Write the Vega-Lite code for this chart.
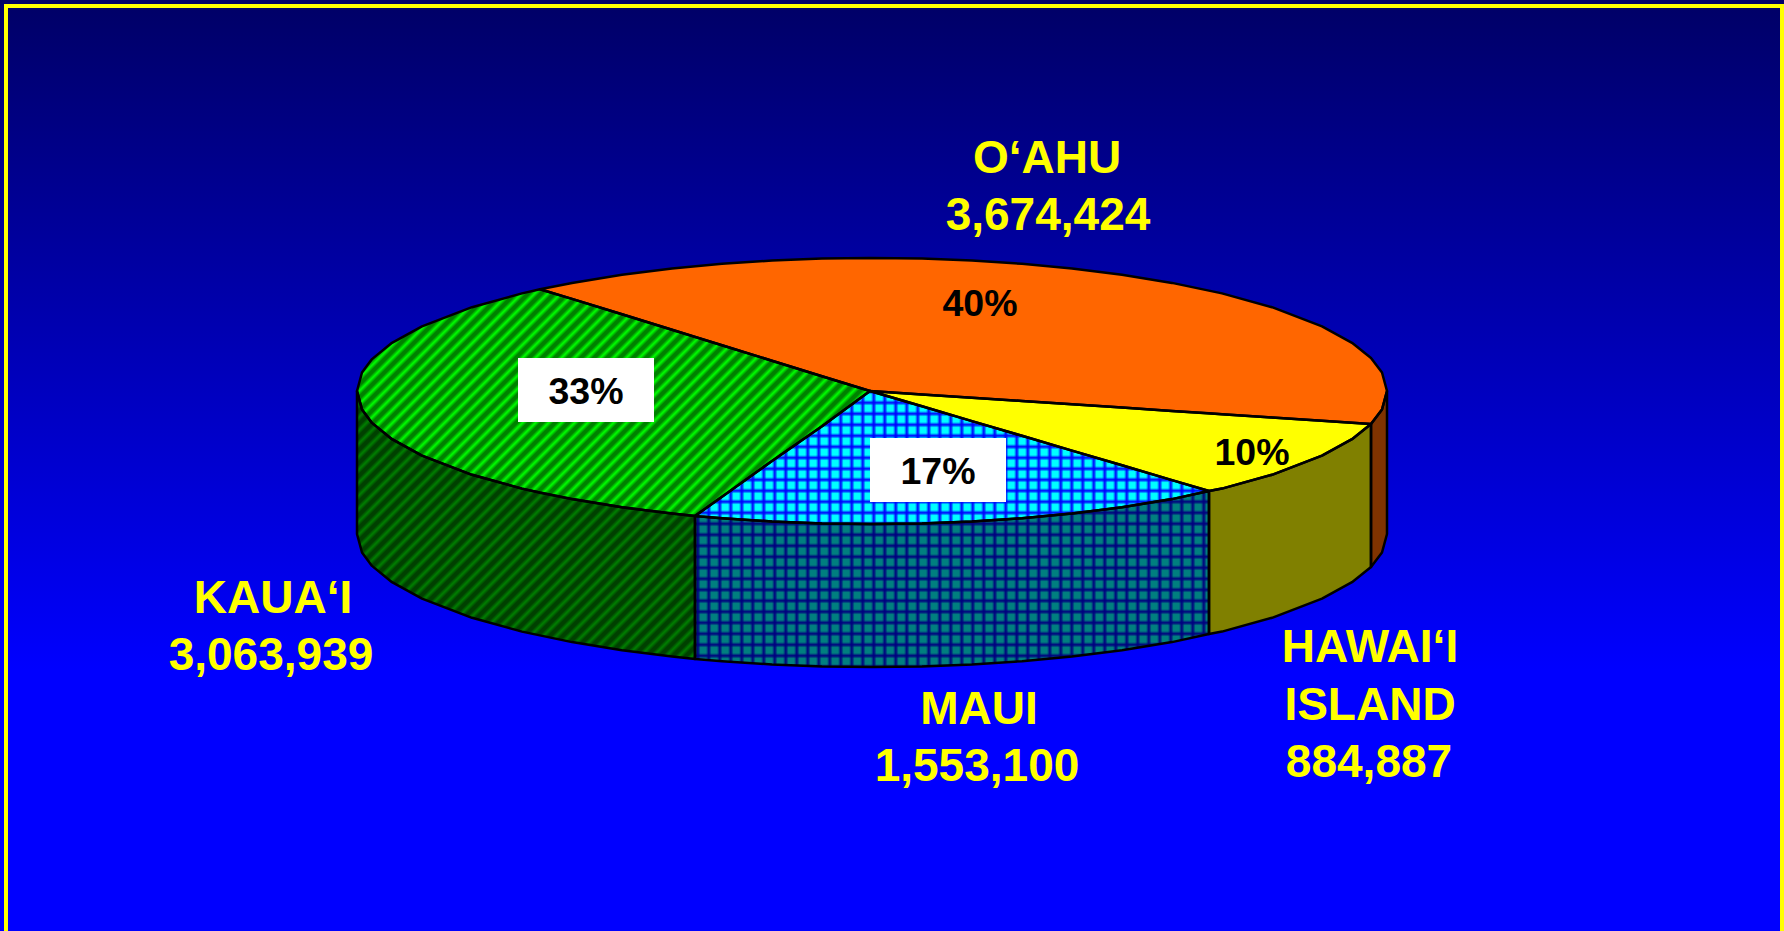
{"$schema":"https://vega.github.io/schema/vega-lite/v6.json","width":1784,"height":931,"padding":0,"autosize":"none","background":"#000066","view":{"stroke":null},
"data":{"values":[
{"part":"orange","x":540,"y":289.3,"y2":289.3},{"part":"orange","x":572,"y":282.9,"y2":298.9},{"part":"orange","x":622,"y":274.7,"y2":314.3},{"part":"orange","x":672,"y":268.4,"y2":329.8},{"part":"orange","x":722,"y":263.8,"y2":345.3},{"part":"orange","x":772,"y":260.5,"y2":360.7},{"part":"orange","x":822,"y":258.6,"y2":376.2},{"part":"orange","x":870,"y":258,"y2":391},{"part":"orange","x":922,"y":258.6,"y2":394.4},{"part":"orange","x":972,"y":260.5,"y2":397.7},{"part":"orange","x":1022,"y":263.8,"y2":401},{"part":"orange","x":1072,"y":268.4,"y2":404.3},{"part":"orange","x":1122,"y":274.7,"y2":407.6},{"part":"orange","x":1172,"y":282.9,"y2":410.9},{"part":"orange","x":1222,"y":293.4,"y2":414.2},{"part":"orange","x":1272,"y":307.2,"y2":417.5},{"part":"orange","x":1322,"y":326.3,"y2":420.8},{"part":"orange","x":1352,"y":342.8,"y2":422.8},{"part":"orange","x":1371,"y":358,"y2":424},{"part":"orange","x":1382,"y":372.5,"y2":409.5},{"part":"orange","x":1387,"y":391,"y2":391},
{"part":"yellow","x":870,"y":391,"y2":391},{"part":"yellow","x":922,"y":394.4,"y2":406.3},{"part":"yellow","x":972,"y":397.7,"y2":421.1},{"part":"yellow","x":1022,"y":401,"y2":435.8},{"part":"yellow","x":1072,"y":404.3,"y2":450.6},{"part":"yellow","x":1122,"y":407.6,"y2":465.3},{"part":"yellow","x":1172,"y":410.9,"y2":480.1},{"part":"yellow","x":1209,"y":413.3,"y2":491},{"part":"yellow","x":1222,"y":414.2,"y2":488.6},{"part":"yellow","x":1272,"y":417.5,"y2":474.8},{"part":"yellow","x":1322,"y":420.8,"y2":455.7},{"part":"yellow","x":1352,"y":422.8,"y2":439.2},{"part":"yellow","x":1371,"y":424,"y2":424},
{"part":"brown","x":1371,"y":424,"y2":567},{"part":"brown","x":1382,"y":409.5,"y2":552.5},{"part":"brown","x":1387,"y":391,"y2":534},
{"part":"olive","x":1209,"y":491,"y2":634},{"part":"olive","x":1222,"y":488.6,"y2":631.6},{"part":"olive","x":1272,"y":474.8,"y2":617.8},{"part":"olive","x":1322,"y":455.7,"y2":598.7},{"part":"olive","x":1352,"y":439.2,"y2":582.2},{"part":"olive","x":1371,"y":424,"y2":567},
{"part":"mauiAll","x":695,"y":516,"y2":659},{"part":"mauiAll","x":722,"y":496.7,"y2":661.2},{"part":"mauiAll","x":772,"y":461,"y2":664.5},{"part":"mauiAll","x":822,"y":426.3,"y2":666.4},{"part":"mauiAll","x":870,"y":391,"y2":667},{"part":"mauiAll","x":922,"y":406.3,"y2":666.4},{"part":"mauiAll","x":972,"y":421.1,"y2":664.5},{"part":"mauiAll","x":1022,"y":435.8,"y2":661.2},{"part":"mauiAll","x":1072,"y":450.6,"y2":656.6},{"part":"mauiAll","x":1122,"y":465.3,"y2":650.3},{"part":"mauiAll","x":1172,"y":480.1,"y2":642.1},{"part":"mauiAll","x":1209,"y":491,"y2":634},
{"part":"mauiSide","x":695,"y":516,"y2":659},{"part":"mauiSide","x":722,"y":518.2,"y2":661.2},{"part":"mauiSide","x":772,"y":521.5,"y2":664.5},{"part":"mauiSide","x":822,"y":523.4,"y2":666.4},{"part":"mauiSide","x":872,"y":524,"y2":667},{"part":"mauiSide","x":922,"y":523.4,"y2":666.4},{"part":"mauiSide","x":972,"y":521.5,"y2":664.5},{"part":"mauiSide","x":1022,"y":518.2,"y2":661.2},{"part":"mauiSide","x":1072,"y":513.6,"y2":656.6},{"part":"mauiSide","x":1122,"y":507.3,"y2":650.3},{"part":"mauiSide","x":1172,"y":499.1,"y2":642.1},{"part":"mauiSide","x":1209,"y":491,"y2":634},
{"part":"mauiTop","x":695,"y":516,"y2":516},{"part":"mauiTop","x":722,"y":496.7,"y2":518.2},{"part":"mauiTop","x":772,"y":461,"y2":521.5},{"part":"mauiTop","x":822,"y":426.3,"y2":523.4},{"part":"mauiTop","x":870,"y":391,"y2":524},{"part":"mauiTop","x":922,"y":406.3,"y2":523.4},{"part":"mauiTop","x":972,"y":421.1,"y2":521.5},{"part":"mauiTop","x":1022,"y":435.8,"y2":518.2},{"part":"mauiTop","x":1072,"y":450.6,"y2":513.6},{"part":"mauiTop","x":1122,"y":465.3,"y2":507.3},{"part":"mauiTop","x":1172,"y":480.1,"y2":499.1},{"part":"mauiTop","x":1209,"y":491,"y2":491},
{"part":"kauaiTop","x":357,"y":391,"y2":391},{"part":"kauaiTop","x":362,"y":372.5,"y2":409.5},{"part":"kauaiTop","x":372,"y":359.1,"y2":422.9},{"part":"kauaiTop","x":392,"y":342.8,"y2":439.2},{"part":"kauaiTop","x":422,"y":326.3,"y2":455.7},{"part":"kauaiTop","x":472,"y":307.2,"y2":474.8},{"part":"kauaiTop","x":522,"y":293.4,"y2":488.6},{"part":"kauaiTop","x":540,"y":289.3,"y2":492.7},{"part":"kauaiTop","x":572,"y":298.9,"y2":499.1},{"part":"kauaiTop","x":622,"y":314.3,"y2":507.3},{"part":"kauaiTop","x":672,"y":329.8,"y2":513.6},{"part":"kauaiTop","x":695,"y":336.9,"y2":516},{"part":"kauaiTop","x":722,"y":345.3,"y2":496.7},{"part":"kauaiTop","x":772,"y":360.7,"y2":461},{"part":"kauaiTop","x":822,"y":376.2,"y2":426.3},{"part":"kauaiTop","x":870,"y":391,"y2":391},
{"part":"kauaiSide","x":357,"y":391,"y2":534},{"part":"kauaiSide","x":362,"y":409.5,"y2":552.5},{"part":"kauaiSide","x":372,"y":422.9,"y2":565.9},{"part":"kauaiSide","x":392,"y":439.2,"y2":582.2},{"part":"kauaiSide","x":422,"y":455.7,"y2":598.7},{"part":"kauaiSide","x":472,"y":474.8,"y2":617.8},{"part":"kauaiSide","x":522,"y":488.6,"y2":631.6},{"part":"kauaiSide","x":572,"y":499.1,"y2":642.1},{"part":"kauaiSide","x":622,"y":507.3,"y2":650.3},{"part":"kauaiSide","x":672,"y":513.6,"y2":656.6},{"part":"kauaiSide","x":695,"y":516,"y2":659},
{"part":"kauaiAll","x":357,"y":391,"y2":534},{"part":"kauaiAll","x":362,"y":372.5,"y2":552.5},{"part":"kauaiAll","x":372,"y":359.1,"y2":565.9},{"part":"kauaiAll","x":392,"y":342.8,"y2":582.2},{"part":"kauaiAll","x":422,"y":326.3,"y2":598.7},{"part":"kauaiAll","x":472,"y":307.2,"y2":617.8},{"part":"kauaiAll","x":522,"y":293.4,"y2":631.6},{"part":"kauaiAll","x":540,"y":289.3,"y2":635.7},{"part":"kauaiAll","x":572,"y":298.9,"y2":642.1},{"part":"kauaiAll","x":622,"y":314.3,"y2":650.3},{"part":"kauaiAll","x":672,"y":329.8,"y2":656.6},{"part":"kauaiAll","x":695,"y":336.9,"y2":659},{"part":"kauaiAll","x":695.5,"y":337.1,"y2":516},{"part":"kauaiAll","x":722,"y":345.3,"y2":496.7},{"part":"kauaiAll","x":772,"y":360.7,"y2":461},{"part":"kauaiAll","x":822,"y":376.2,"y2":426.3},{"part":"kauaiAll","x":870,"y":391,"y2":391}
]},
"encoding":{"x":{"field":"x","type":"quantitative","axis":null,"scale":{"domain":[0,1784],"nice":false,"zero":false}},"y":{"field":"y","type":"quantitative","axis":null,"scale":{"domain":[931,0],"nice":false,"zero":false}},"y2":{"field":"y2"}},
"layer":[
{"data":{"values":[{"x":0,"x2":1784,"y":0,"y2":931}]},"mark":{"type":"rect","fill":{"gradient":"linear","x1":0,"y1":0,"x2":0,"y2":1,"stops":[{"offset":0,"color":"#000066"},{"offset":0.72,"color":"#0000ff"},{"offset":1,"color":"#0000ff"}]}},"encoding":{"x2":{"field":"x2"}}},
{"data":{"values":[{"side":"left","x":4,"x2":8,"y":4,"y2":931},{"side":"top","x":4,"x2":1784,"y":4,"y2":8},{"side":"right","x":1780,"x2":1784,"y":4,"y2":931}]},"mark":{"type":"rect","fill":"#ffff00"},"encoding":{"x2":{"field":"x2"}}},
{"transform":[{"filter":"datum.part=='kauaiAll'"}],"mark":{"type":"area","fill":"#00ff00"}},
{"transform":[{"filter":"datum.part=='kauaiAll'"}],"mark":{"type":"area","fill":{"gradient":"linear","x1":0,"y1":0,"x2":1.668,"y2":1.202,"stops":[{"offset":0,"color":"#0800"},{"offset":0.0035,"color":"#008000"},{"offset":0.0065,"color":"#008000"},{"offset":0.01,"color":"#0800"},{"offset":0.0135,"color":"#008000"},{"offset":0.0165,"color":"#008000"},{"offset":0.02,"color":"#0800"},{"offset":0.0235,"color":"#008000"},{"offset":0.0265,"color":"#008000"},{"offset":0.03,"color":"#0800"},{"offset":0.0335,"color":"#008000"},{"offset":0.0365,"color":"#008000"},{"offset":0.04,"color":"#0800"},{"offset":0.0435,"color":"#008000"},{"offset":0.0465,"color":"#008000"},{"offset":0.05,"color":"#0800"},{"offset":0.0535,"color":"#008000"},{"offset":0.0565,"color":"#008000"},{"offset":0.06,"color":"#0800"},{"offset":0.0635,"color":"#008000"},{"offset":0.0665,"color":"#008000"},{"offset":0.07,"color":"#0800"},{"offset":0.0735,"color":"#008000"},{"offset":0.0765,"color":"#008000"},{"offset":0.08,"color":"#0800"},{"offset":0.0835,"color":"#008000"},{"offset":0.0865,"color":"#008000"},{"offset":0.09,"color":"#0800"},{"offset":0.0935,"color":"#008000"},{"offset":0.0965,"color":"#008000"},{"offset":0.1,"color":"#0800"},{"offset":0.1035,"color":"#008000"},{"offset":0.1065,"color":"#008000"},{"offset":0.11,"color":"#0800"},{"offset":0.1135,"color":"#008000"},{"offset":0.1165,"color":"#008000"},{"offset":0.12,"color":"#0800"},{"offset":0.1235,"color":"#008000"},{"offset":0.1265,"color":"#008000"},{"offset":0.13,"color":"#0800"},{"offset":0.1335,"color":"#008000"},{"offset":0.1365,"color":"#008000"},{"offset":0.14,"color":"#0800"},{"offset":0.1435,"color":"#008000"},{"offset":0.1465,"color":"#008000"},{"offset":0.15,"color":"#0800"},{"offset":0.1535,"color":"#008000"},{"offset":0.1565,"color":"#008000"},{"offset":0.16,"color":"#0800"},{"offset":0.1635,"color":"#008000"},{"offset":0.1665,"color":"#008000"},{"offset":0.17,"color":"#0800"},{"offset":0.1735,"color":"#008000"},{"offset":0.1765,"color":"#008000"},{"offset":0.18,"color":"#0800"},{"offset":0.1835,"color":"#008000"},{"offset":0.1865,"color":"#008000"},{"offset":0.19,"color":"#0800"},{"offset":0.1935,"color":"#008000"},{"offset":0.1965,"color":"#008000"},{"offset":0.2,"color":"#0800"},{"offset":0.2035,"color":"#008000"},{"offset":0.2065,"color":"#008000"},{"offset":0.21,"color":"#0800"},{"offset":0.2135,"color":"#008000"},{"offset":0.2165,"color":"#008000"},{"offset":0.22,"color":"#0800"},{"offset":0.2235,"color":"#008000"},{"offset":0.2265,"color":"#008000"},{"offset":0.23,"color":"#0800"},{"offset":0.2335,"color":"#008000"},{"offset":0.2365,"color":"#008000"},{"offset":0.24,"color":"#0800"},{"offset":0.2435,"color":"#008000"},{"offset":0.2465,"color":"#008000"},{"offset":0.25,"color":"#0800"},{"offset":0.2535,"color":"#008000"},{"offset":0.2565,"color":"#008000"},{"offset":0.26,"color":"#0800"},{"offset":0.2635,"color":"#008000"},{"offset":0.2665,"color":"#008000"},{"offset":0.27,"color":"#0800"},{"offset":0.2735,"color":"#008000"},{"offset":0.2765,"color":"#008000"},{"offset":0.28,"color":"#0800"},{"offset":0.2835,"color":"#008000"},{"offset":0.2865,"color":"#008000"},{"offset":0.29,"color":"#0800"},{"offset":0.2935,"color":"#008000"},{"offset":0.2965,"color":"#008000"},{"offset":0.3,"color":"#0800"},{"offset":0.3035,"color":"#008000"},{"offset":0.3065,"color":"#008000"},{"offset":0.31,"color":"#0800"},{"offset":0.3135,"color":"#008000"},{"offset":0.3165,"color":"#008000"},{"offset":0.32,"color":"#0800"},{"offset":0.3235,"color":"#008000"},{"offset":0.3265,"color":"#008000"},{"offset":0.33,"color":"#0800"},{"offset":0.3335,"color":"#008000"},{"offset":0.3365,"color":"#008000"},{"offset":0.34,"color":"#0800"},{"offset":0.3435,"color":"#008000"},{"offset":0.3465,"color":"#008000"},{"offset":0.35,"color":"#0800"},{"offset":0.3535,"color":"#008000"},{"offset":0.3565,"color":"#008000"},{"offset":0.36,"color":"#0800"},{"offset":0.3635,"color":"#008000"},{"offset":0.3665,"color":"#008000"},{"offset":0.37,"color":"#0800"},{"offset":0.3735,"color":"#008000"},{"offset":0.3765,"color":"#008000"},{"offset":0.38,"color":"#0800"},{"offset":0.3835,"color":"#008000"},{"offset":0.3865,"color":"#008000"},{"offset":0.39,"color":"#0800"},{"offset":0.3935,"color":"#008000"},{"offset":0.3965,"color":"#008000"},{"offset":0.4,"color":"#0800"},{"offset":0.4035,"color":"#008000"},{"offset":0.4065,"color":"#008000"},{"offset":0.41,"color":"#0800"},{"offset":0.4135,"color":"#008000"},{"offset":0.4165,"color":"#008000"},{"offset":0.42,"color":"#0800"},{"offset":0.4235,"color":"#008000"},{"offset":0.4265,"color":"#008000"},{"offset":0.43,"color":"#0800"},{"offset":0.4335,"color":"#008000"},{"offset":0.4365,"color":"#008000"},{"offset":0.44,"color":"#0800"},{"offset":0.4435,"color":"#008000"},{"offset":0.4465,"color":"#008000"},{"offset":0.45,"color":"#0800"},{"offset":0.4535,"color":"#008000"},{"offset":0.4565,"color":"#008000"},{"offset":0.46,"color":"#0800"},{"offset":0.4635,"color":"#008000"},{"offset":0.4665,"color":"#008000"},{"offset":0.47,"color":"#0800"},{"offset":0.4735,"color":"#008000"},{"offset":0.4765,"color":"#008000"},{"offset":0.48,"color":"#0800"},{"offset":0.4835,"color":"#008000"},{"offset":0.4865,"color":"#008000"},{"offset":0.49,"color":"#0800"},{"offset":0.4935,"color":"#008000"},{"offset":0.4965,"color":"#008000"},{"offset":0.5,"color":"#0800"},{"offset":0.5035,"color":"#008000"},{"offset":0.5065,"color":"#008000"},{"offset":0.51,"color":"#0800"},{"offset":0.5135,"color":"#008000"},{"offset":0.5165,"color":"#008000"},{"offset":0.52,"color":"#0800"},{"offset":0.5235,"color":"#008000"},{"offset":0.5265,"color":"#008000"},{"offset":0.53,"color":"#0800"},{"offset":0.5335,"color":"#008000"},{"offset":0.5365,"color":"#008000"},{"offset":0.54,"color":"#0800"},{"offset":0.5435,"color":"#008000"},{"offset":0.5465,"color":"#008000"},{"offset":0.55,"color":"#0800"},{"offset":0.5535,"color":"#008000"},{"offset":0.5565,"color":"#008000"},{"offset":0.56,"color":"#0800"},{"offset":0.5635,"color":"#008000"},{"offset":0.5665,"color":"#008000"},{"offset":0.57,"color":"#0800"},{"offset":0.5735,"color":"#008000"},{"offset":0.5765,"color":"#008000"},{"offset":0.58,"color":"#0800"},{"offset":0.5835,"color":"#008000"},{"offset":0.5865,"color":"#008000"},{"offset":0.59,"color":"#0800"},{"offset":0.5935,"color":"#008000"},{"offset":0.5965,"color":"#008000"},{"offset":0.6,"color":"#0800"},{"offset":0.6035,"color":"#008000"},{"offset":0.6065,"color":"#008000"},{"offset":0.61,"color":"#0800"},{"offset":0.6135,"color":"#008000"},{"offset":0.6165,"color":"#008000"},{"offset":0.62,"color":"#0800"},{"offset":0.6235,"color":"#008000"},{"offset":0.6265,"color":"#008000"},{"offset":0.63,"color":"#0800"},{"offset":0.6335,"color":"#008000"},{"offset":0.6365,"color":"#008000"},{"offset":0.64,"color":"#0800"},{"offset":0.6435,"color":"#008000"},{"offset":0.6465,"color":"#008000"},{"offset":0.65,"color":"#0800"},{"offset":0.6535,"color":"#008000"},{"offset":0.6565,"color":"#008000"},{"offset":0.66,"color":"#0800"},{"offset":0.6635,"color":"#008000"},{"offset":0.6665,"color":"#008000"},{"offset":0.67,"color":"#0800"},{"offset":0.6735,"color":"#008000"},{"offset":0.6765,"color":"#008000"},{"offset":0.68,"color":"#0800"}]}}},
{"transform":[{"filter":"datum.part=='kauaiSide'"}],"mark":{"type":"area","fill":"#000000","fillOpacity":0.5}},
{"transform":[{"filter":"datum.part=='mauiAll'"}],"mark":{"type":"area","fill":"#00ffff"}},
{"transform":[{"filter":"datum.part=='mauiAll'"}],"mark":{"type":"area","fill":{"gradient":"linear","x1":-0.00525,"y1":0,"x2":1.0648,"y2":0,"stops":[{"offset":0.005,"color":"#00f0"},{"offset":0.01,"color":"#00f"},{"offset":0.015,"color":"#00f0"},{"offset":0.025,"color":"#00f0"},{"offset":0.03,"color":"#00f"},{"offset":0.035,"color":"#00f0"},{"offset":0.045,"color":"#00f0"},{"offset":0.05,"color":"#00f"},{"offset":0.055,"color":"#00f0"},{"offset":0.065,"color":"#00f0"},{"offset":0.07,"color":"#00f"},{"offset":0.075,"color":"#00f0"},{"offset":0.085,"color":"#00f0"},{"offset":0.09,"color":"#00f"},{"offset":0.095,"color":"#00f0"},{"offset":0.105,"color":"#00f0"},{"offset":0.11,"color":"#00f"},{"offset":0.115,"color":"#00f0"},{"offset":0.125,"color":"#00f0"},{"offset":0.13,"color":"#00f"},{"offset":0.135,"color":"#00f0"},{"offset":0.145,"color":"#00f0"},{"offset":0.15,"color":"#00f"},{"offset":0.155,"color":"#00f0"},{"offset":0.165,"color":"#00f0"},{"offset":0.17,"color":"#00f"},{"offset":0.175,"color":"#00f0"},{"offset":0.185,"color":"#00f0"},{"offset":0.19,"color":"#00f"},{"offset":0.195,"color":"#00f0"},{"offset":0.205,"color":"#00f0"},{"offset":0.21,"color":"#00f"},{"offset":0.215,"color":"#00f0"},{"offset":0.225,"color":"#00f0"},{"offset":0.23,"color":"#00f"},{"offset":0.235,"color":"#00f0"},{"offset":0.245,"color":"#00f0"},{"offset":0.25,"color":"#00f"},{"offset":0.255,"color":"#00f0"},{"offset":0.265,"color":"#00f0"},{"offset":0.27,"color":"#00f"},{"offset":0.275,"color":"#00f0"},{"offset":0.285,"color":"#00f0"},{"offset":0.29,"color":"#00f"},{"offset":0.295,"color":"#00f0"},{"offset":0.305,"color":"#00f0"},{"offset":0.31,"color":"#00f"},{"offset":0.315,"color":"#00f0"},{"offset":0.325,"color":"#00f0"},{"offset":0.33,"color":"#00f"},{"offset":0.335,"color":"#00f0"},{"offset":0.345,"color":"#00f0"},{"offset":0.35,"color":"#00f"},{"offset":0.355,"color":"#00f0"},{"offset":0.365,"color":"#00f0"},{"offset":0.37,"color":"#00f"},{"offset":0.375,"color":"#00f0"},{"offset":0.385,"color":"#00f0"},{"offset":0.39,"color":"#00f"},{"offset":0.395,"color":"#00f0"},{"offset":0.405,"color":"#00f0"},{"offset":0.41,"color":"#00f"},{"offset":0.415,"color":"#00f0"},{"offset":0.425,"color":"#00f0"},{"offset":0.43,"color":"#00f"},{"offset":0.435,"color":"#00f0"},{"offset":0.445,"color":"#00f0"},{"offset":0.45,"color":"#00f"},{"offset":0.455,"color":"#00f0"},{"offset":0.465,"color":"#00f0"},{"offset":0.47,"color":"#00f"},{"offset":0.475,"color":"#00f0"},{"offset":0.485,"color":"#00f0"},{"offset":0.49,"color":"#00f"},{"offset":0.495,"color":"#00f0"},{"offset":0.505,"color":"#00f0"},{"offset":0.51,"color":"#00f"},{"offset":0.515,"color":"#00f0"},{"offset":0.525,"color":"#00f0"},{"offset":0.53,"color":"#00f"},{"offset":0.535,"color":"#00f0"},{"offset":0.545,"color":"#00f0"},{"offset":0.55,"color":"#00f"},{"offset":0.555,"color":"#00f0"},{"offset":0.565,"color":"#00f0"},{"offset":0.57,"color":"#00f"},{"offset":0.575,"color":"#00f0"},{"offset":0.585,"color":"#00f0"},{"offset":0.59,"color":"#00f"},{"offset":0.595,"color":"#00f0"},{"offset":0.605,"color":"#00f0"},{"offset":0.61,"color":"#00f"},{"offset":0.615,"color":"#00f0"},{"offset":0.625,"color":"#00f0"},{"offset":0.63,"color":"#00f"},{"offset":0.635,"color":"#00f0"},{"offset":0.645,"color":"#00f0"},{"offset":0.65,"color":"#00f"},{"offset":0.655,"color":"#00f0"},{"offset":0.665,"color":"#00f0"},{"offset":0.67,"color":"#00f"},{"offset":0.675,"color":"#00f0"},{"offset":0.685,"color":"#00f0"},{"offset":0.69,"color":"#00f"},{"offset":0.695,"color":"#00f0"},{"offset":0.705,"color":"#00f0"},{"offset":0.71,"color":"#00f"},{"offset":0.715,"color":"#00f0"},{"offset":0.725,"color":"#00f0"},{"offset":0.73,"color":"#00f"},{"offset":0.735,"color":"#00f0"},{"offset":0.745,"color":"#00f0"},{"offset":0.75,"color":"#00f"},{"offset":0.755,"color":"#00f0"},{"offset":0.765,"color":"#00f0"},{"offset":0.77,"color":"#00f"},{"offset":0.775,"color":"#00f0"},{"offset":0.785,"color":"#00f0"},{"offset":0.79,"color":"#00f"},{"offset":0.795,"color":"#00f0"},{"offset":0.805,"color":"#00f0"},{"offset":0.81,"color":"#00f"},{"offset":0.815,"color":"#00f0"},{"offset":0.825,"color":"#00f0"},{"offset":0.83,"color":"#00f"},{"offset":0.835,"color":"#00f0"},{"offset":0.845,"color":"#00f0"},{"offset":0.85,"color":"#00f"},{"offset":0.855,"color":"#00f0"},{"offset":0.865,"color":"#00f0"},{"offset":0.87,"color":"#00f"},{"offset":0.875,"color":"#00f0"},{"offset":0.885,"color":"#00f0"},{"offset":0.89,"color":"#00f"},{"offset":0.895,"color":"#00f0"},{"offset":0.905,"color":"#00f0"},{"offset":0.91,"color":"#00f"},{"offset":0.915,"color":"#00f0"},{"offset":0.925,"color":"#00f0"},{"offset":0.93,"color":"#00f"},{"offset":0.935,"color":"#00f0"},{"offset":0.945,"color":"#00f0"},{"offset":0.95,"color":"#00f"},{"offset":0.955,"color":"#00f0"}]}}},
{"transform":[{"filter":"datum.part=='mauiAll'"}],"mark":{"type":"area","fill":{"gradient":"linear","x1":0,"y1":-0.01703,"x2":0,"y2":1.9757,"stops":[{"offset":0.005,"color":"#00f0"},{"offset":0.01,"color":"#00f"},{"offset":0.015,"color":"#00f0"},{"offset":0.025,"color":"#00f0"},{"offset":0.03,"color":"#00f"},{"offset":0.035,"color":"#00f0"},{"offset":0.045,"color":"#00f0"},{"offset":0.05,"color":"#00f"},{"offset":0.055,"color":"#00f0"},{"offset":0.065,"color":"#00f0"},{"offset":0.07,"color":"#00f"},{"offset":0.075,"color":"#00f0"},{"offset":0.085,"color":"#00f0"},{"offset":0.09,"color":"#00f"},{"offset":0.095,"color":"#00f0"},{"offset":0.105,"color":"#00f0"},{"offset":0.11,"color":"#00f"},{"offset":0.115,"color":"#00f0"},{"offset":0.125,"color":"#00f0"},{"offset":0.13,"color":"#00f"},{"offset":0.135,"color":"#00f0"},{"offset":0.145,"color":"#00f0"},{"offset":0.15,"color":"#00f"},{"offset":0.155,"color":"#00f0"},{"offset":0.165,"color":"#00f0"},{"offset":0.17,"color":"#00f"},{"offset":0.175,"color":"#00f0"},{"offset":0.185,"color":"#00f0"},{"offset":0.19,"color":"#00f"},{"offset":0.195,"color":"#00f0"},{"offset":0.205,"color":"#00f0"},{"offset":0.21,"color":"#00f"},{"offset":0.215,"color":"#00f0"},{"offset":0.225,"color":"#00f0"},{"offset":0.23,"color":"#00f"},{"offset":0.235,"color":"#00f0"},{"offset":0.245,"color":"#00f0"},{"offset":0.25,"color":"#00f"},{"offset":0.255,"color":"#00f0"},{"offset":0.265,"color":"#00f0"},{"offset":0.27,"color":"#00f"},{"offset":0.275,"color":"#00f0"},{"offset":0.285,"color":"#00f0"},{"offset":0.29,"color":"#00f"},{"offset":0.295,"color":"#00f0"},{"offset":0.305,"color":"#00f0"},{"offset":0.31,"color":"#00f"},{"offset":0.315,"color":"#00f0"},{"offset":0.325,"color":"#00f0"},{"offset":0.33,"color":"#00f"},{"offset":0.335,"color":"#00f0"},{"offset":0.345,"color":"#00f0"},{"offset":0.35,"color":"#00f"},{"offset":0.355,"color":"#00f0"},{"offset":0.365,"color":"#00f0"},{"offset":0.37,"color":"#00f"},{"offset":0.375,"color":"#00f0"},{"offset":0.385,"color":"#00f0"},{"offset":0.39,"color":"#00f"},{"offset":0.395,"color":"#00f0"},{"offset":0.405,"color":"#00f0"},{"offset":0.41,"color":"#00f"},{"offset":0.415,"color":"#00f0"},{"offset":0.425,"color":"#00f0"},{"offset":0.43,"color":"#00f"},{"offset":0.435,"color":"#00f0"},{"offset":0.445,"color":"#00f0"},{"offset":0.45,"color":"#00f"},{"offset":0.455,"color":"#00f0"},{"offset":0.465,"color":"#00f0"},{"offset":0.47,"color":"#00f"},{"offset":0.475,"color":"#00f0"},{"offset":0.485,"color":"#00f0"},{"offset":0.49,"color":"#00f"},{"offset":0.495,"color":"#00f0"},{"offset":0.505,"color":"#00f0"},{"offset":0.51,"color":"#00f"},{"offset":0.515,"color":"#00f0"}]}}},
{"transform":[{"filter":"datum.part=='mauiSide'"}],"mark":{"type":"area","fill":"#000000","fillOpacity":0.5}},
{"transform":[{"filter":"datum.part=='orange'"}],"mark":{"type":"area","fill":"#ff6600"}},
{"transform":[{"filter":"datum.part=='yellow'"}],"mark":{"type":"area","fill":"#ffff00"}},
{"transform":[{"filter":"datum.part=='olive'"}],"mark":{"type":"area","fill":"#808000"}},
{"transform":[{"filter":"datum.part=='brown'"}],"mark":{"type":"area","fill":"#803300"}},
{"transform":[{"filter":{"field":"part","oneOf":["orange","yellow","olive","brown","mauiTop","mauiSide","kauaiTop","kauaiSide"]}}],"mark":{"type":"area","fill":"#000000","fillOpacity":0,"stroke":"#000000","strokeWidth":2.5,"strokeJoin":"round"},"encoding":{"detail":{"field":"part"}}},
{"data":{"values":[{"box":"33%","x":518,"x2":654,"y":358,"y2":422},{"box":"17%","x":870,"x2":1006,"y":438,"y2":502}]},"mark":{"type":"rect","fill":"#ffffff"},"encoding":{"x2":{"field":"x2"}}},
{"data":{"values":[{"label":"40%","x":980,"y":305},{"label":"33%","x":586,"y":393},{"label":"17%","x":938,"y":473},{"label":"10%","x":1252,"y":454}]},"mark":{"type":"text","font":"Liberation Sans","fontWeight":"bold","fontSize":37.5,"color":"#000000","align":"center","baseline":"middle"},"encoding":{"y2":null,"text":{"field":"label"}}},
{"data":{"values":[{"label":"O‘AHU","x":1047,"y":159},{"label":"3,674,424","x":1048,"y":216},{"label":"KAUA‘I","x":273,"y":599},{"label":"3,063,939","x":271,"y":656},{"label":"MAUI","x":979,"y":710},{"label":"1,553,100","x":977,"y":767},{"label":"HAWAI‘I","x":1370,"y":648},{"label":"ISLAND","x":1370,"y":706},{"label":"884,887","x":1369,"y":763}]},"mark":{"type":"text","font":"Liberation Sans","fontWeight":"bold","fontSize":46,"color":"#ffff00","align":"center","baseline":"middle"},"encoding":{"y2":null,"text":{"field":"label"}}}
]}
